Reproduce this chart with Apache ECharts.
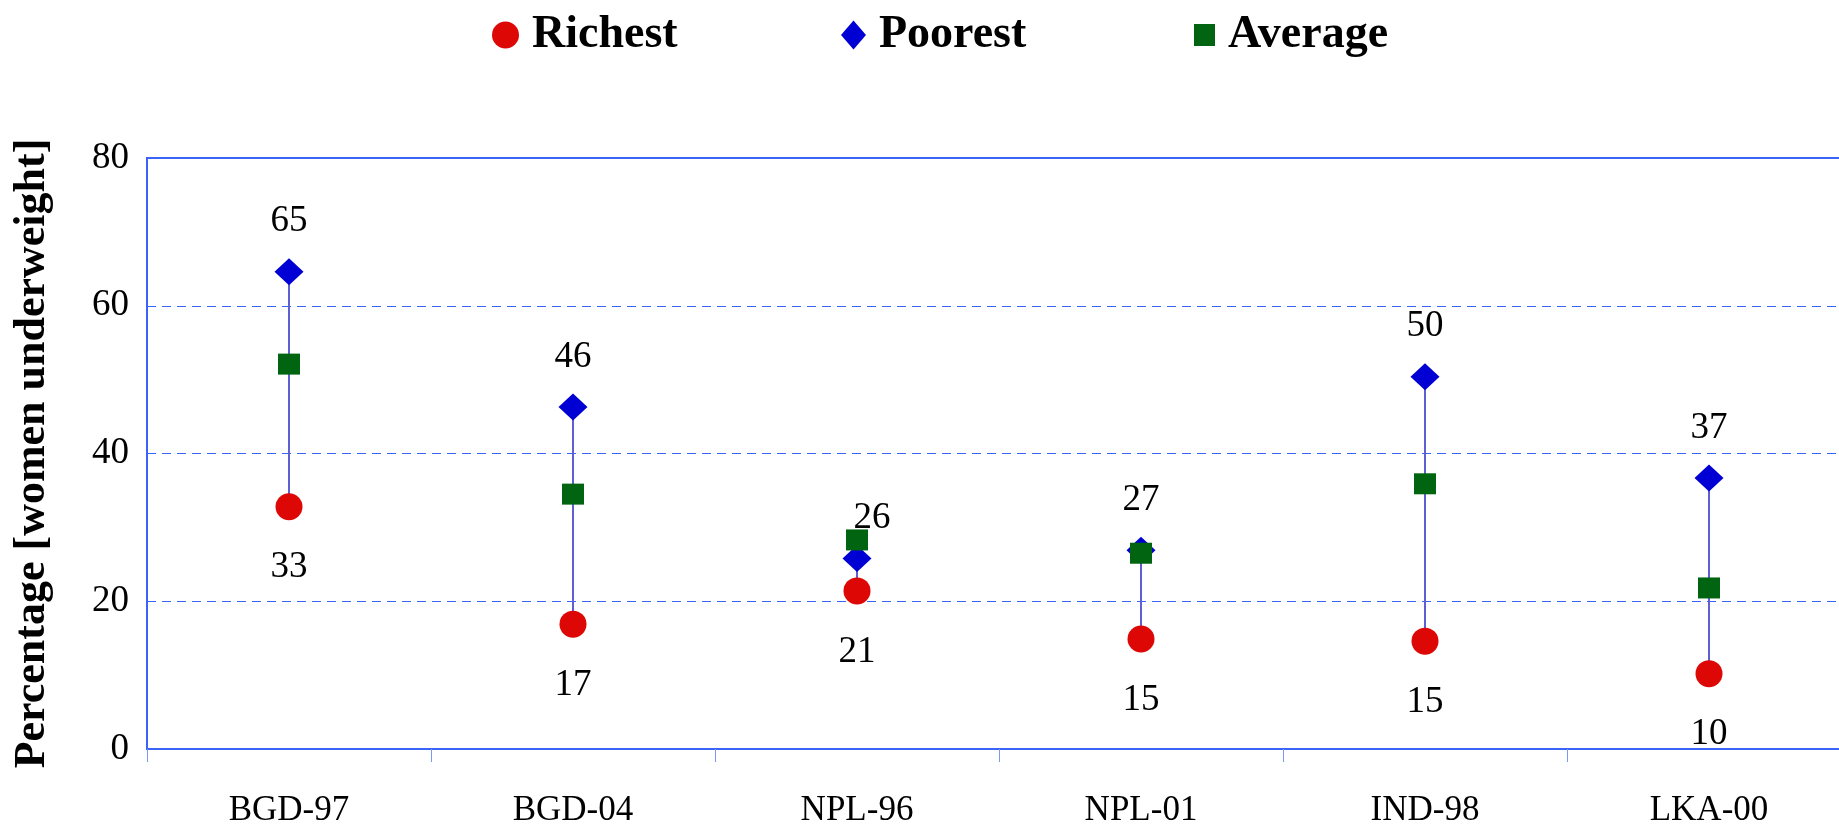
<!DOCTYPE html>
<html lang="en">
<head>
	<meta charset="UTF-8">
	<title>Women underweight</title>
	<script src="https://cdn.jsdelivr.net/npm/echarts@6/dist/echarts.min.js"></script>
</head>
<body style="margin:0;overflow:hidden">
	<!-- a bit wider than the window: the plot runs past the right edge -->
	<div id="main" style="width: 1851px;height: 828px;"></div>
</body>
<script>
	// values
	const countries = ['BGD-97', 'BGD-04', 'NPL-96', 'NPL-01', 'IND-98', 'LKA-00']
	const richest = [32.8, 16.9, 21.4, 14.9, 14.6, 10.2]
	const poorest = [64.6, 46.3, 25.8, 26.9, 50.4, 36.7]
	const average = [52.1, 34.5, 28.3, 26.5, 35.9, 21.8]
	const yTicks = [0, 20, 40, 60, 80]

	const blue = '#3a64f8'
	const font = 'Liberation Serif'

	let chart = echarts.init(document.getElementById('main'))

	// vertical line from lowest to highest value per country
	const ranges = countries.map((c, i) => {
		const v = [richest[i], poorest[i], average[i]]
		return [i, Math.min(...v), Math.max(...v)]
	})

	// the "26" label of NPL-96 is pushed aside by the square
	const poorNudge = { 2: [15, -40] }

	const valueLabel = (dy) => ({
		show: true,
		position: 'inside',
		offset: [0, dy],
		fontSize: 37,
		fontFamily: font,
		color: '#000',
		formatter: p => Math.round(p.value)
	})

	const legendBase = {
		top: 7,
		itemGap: 0,
		textStyle: { fontSize: 46, fontWeight: 'bold', fontFamily: font, color: '#000', padding: [0, 0, 0, 8] }
	}

	let option = {
		animation: false,
		textStyle: { fontFamily: font },
		legend: [
			Object.assign({}, legendBase, { left: 487, data: ['Richest'], itemWidth: 27, itemHeight: 27 }),
			Object.assign({}, legendBase, { left: 836, data: ['Poorest'], itemWidth: 25, itemHeight: 29 }),
			Object.assign({}, legendBase, { left: 1189, data: ['Average'], itemWidth: 21, itemHeight: 22 })
		],
		grid: {
			left: 147,
			right: 0,
			top: 158,
			bottom: 79,
			show: true,
			borderColor: blue,
			borderWidth: 2
		},
		xAxis: {
			type: 'category',
			data: countries,
			boundaryGap: true,
			axisLine: { lineStyle: { color: blue, width: 2 } },
			axisTick: { show: true, length: 13, lineStyle: { color: '#7b98f8', width: 1 } },
			axisLabel: { fontSize: 35, fontFamily: font, color: '#000', margin: 44 }
		},
		yAxis: {
			type: 'value',
			min: yTicks[0],
			max: yTicks[yTicks.length - 1],
			interval: 20,
			name: 'Percentage [women underweight]',
			nameLocation: 'middle',
			nameGap: 92,
			nameTextStyle: { fontSize: 44, fontWeight: 'bold', fontFamily: font, color: '#000' },
			axisLine: { show: true, lineStyle: { color: blue, width: 2 } },
			axisTick: { show: false },
			axisLabel: { fontSize: 37, fontFamily: font, color: '#000', margin: 18 },
			splitLine: { lineStyle: { color: blue, type: [9, 6], width: 1 } }
		},
		series: [
			{
				type: 'custom',
				silent: true,
				encode: { x: 0, y: [1, 2] },
				data: ranges,
				renderItem: function (params, api) {
					const lo = api.coord([api.value(0), api.value(1)])
					const hi = api.coord([api.value(0), api.value(2)])
					return {
						type: 'line',
						shape: { x1: lo[0], y1: lo[1], x2: hi[0], y2: hi[1] },
						style: { stroke: '#5d5fd2', lineWidth: 2 }
					}
				},
				z: 1
			},
			{
				name: 'Richest',
				type: 'scatter',
				symbol: 'circle',
				symbolSize: 27,
				itemStyle: { color: '#dd0806', opacity: 1 },
				label: valueLabel(61),
				data: richest,
				z: 2
			},
			{
				name: 'Poorest',
				type: 'scatter',
				symbol: 'diamond',
				symbolSize: [29, 27],
				itemStyle: { color: '#0000d4', opacity: 1 },
				label: valueLabel(-50),
				data: poorest.map((v, i) => poorNudge[i] ? { value: v, label: { offset: poorNudge[i] } } : v),
				z: 3
			},
			{
				name: 'Average',
				type: 'scatter',
				symbol: 'rect',
				symbolSize: [22, 21],
				itemStyle: { color: '#006411', opacity: 1 },
				data: average,
				z: 4
			}
		]
	}

	chart.setOption(option)
</script>
</html>
